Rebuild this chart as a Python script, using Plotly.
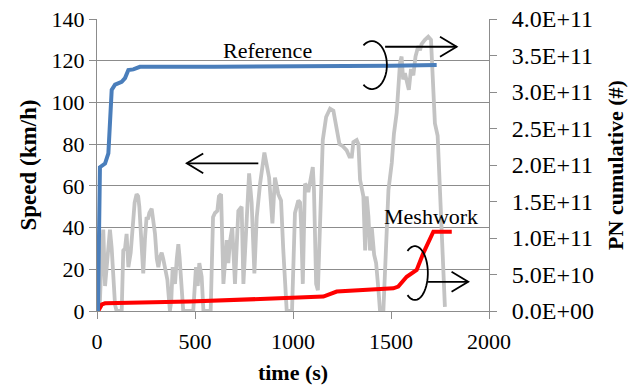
import numpy as np
import plotly.graph_objects as go

# ---- data ----
speed_t = [0, 15, 25, 32, 41, 53, 66, 75, 83, 92, 100, 126, 134, 143, 151, 160, 172, 182, 192, 202,
           210, 216, 226, 236, 245, 253, 260, 267, 279, 288, 296, 305, 313, 322, 330, 338, 347, 359,
           372, 379, 386, 392, 398, 407, 415, 421, 427, 440, 491, 505, 514, 522, 534, 543, 580, 592,
           602, 614, 622, 633, 645, 655, 662, 670, 678, 690, 704, 721, 738, 747, 764, 776, 789, 803,
           815, 832, 854, 866, 878, 895, 908, 925, 939, 950, 968, 995, 1010, 1027, 1036, 1042, 1050,
           1061, 1070, 1078, 1090, 1101, 1107, 1118, 1127, 1141, 1152, 1169, 1189, 1206, 1223, 1237,
           1254, 1274, 1288, 1300, 1308, 1325, 1334, 1342, 1359, 1368, 1376, 1385, 1393, 1402, 1414,
           1424, 1436, 1444, 1461, 1475, 1487, 1504, 1515, 1529, 1546, 1554, 1562, 1571, 1585, 1591,
           1602, 1614, 1625, 1639, 1648, 1656, 1673, 1690, 1704, 1716, 1724, 1738, 1746, 1758, 1767,
           1775]
speed_v = [0, 5, 30, 39, 12, 25, 39, 30, 16, 3, 0, 0, 29, 30, 37, 21, 28, 40, 52, 56,
           55, 50, 30, 18, 35, 45, 44, 47, 49, 44, 37, 25, 21, 26, 28, 25, 21, 15,
           0, 5, 21, 17, 13, 25, 32, 26, 18, 0, 0, 21, 12, 23, 16.5, 0, 0, 45,
           47, 48, 55, 56, 13, 25, 34, 23, 33, 40, 13, 48, 50, 13, 50, 66, 52, 18,
           45, 61, 76, 69, 64, 42, 64, 56, 53, 30, 0, 0, 47, 53, 52, 40, 13,
           61, 60, 57, 63, 69, 58, 13, 10, 58, 82, 93, 97, 96, 88, 80,
           79, 77, 74, 74, 81, 82, 80, 63, 55, 29, 55, 45, 29, 40, 27,
           23, 10, 0, 0, 34, 58, 71, 85, 95, 119, 122, 111, 114, 108, 106,
           116, 113, 122, 127, 125, 128, 130, 131.5, 130, 108, 90, 84, 68, 44, 20,
           2]

ref_t = [0, 5, 15, 41, 58, 75, 92, 126, 143, 160, 185, 219, 600, 1200, 1500, 1733]
ref_pn = [0, 0.0, 1.97e11, 2.02e11, 2.16e11, 3.03e11, 3.10e11, 3.14e11, 3.19e11, 3.30e11,
          3.31e11, 3.345e11, 3.345e11, 3.35e11, 3.36e11, 3.37e11]

mesh_t = [0, 10, 25, 41, 474, 985, 1155, 1223, 1512, 1537, 1580, 1631, 1665, 1716, 1810]
mesh_pn = [0, 0.2e10, 0.9e10, 1.06e10, 1.29e10, 1.74e10, 1.97e10, 2.66e10, 3.11e10, 3.34e10,
           4.69e10, 5.63e10, 7.94e10, 1.086e11, 1.086e11]

x_ticks = [0, 500, 1000, 1500, 2000]
y_ticks = [0, 20, 40, 60, 80, 100, 120, 140]
y2_ticks = [0, 5e10, 1e11, 1.5e11, 2e11, 2.5e11, 3e11, 3.5e11, 4e11]
y2_labels = ["0.0E+00", "5.0E+10", "1.0E+11", "1.5E+11", "2.0E+11",
             "2.5E+11", "3.0E+11", "3.5E+11", "4.0E+11"]

FONT = "Liberation Serif"
AX = "#8c8c8c"

fig = go.Figure()
fig.add_trace(go.Scatter(x=speed_t, y=speed_v, mode="lines",
                         line=dict(color="#c3c3c3", width=3.8), yaxis="y"))
fig.add_trace(go.Scatter(x=mesh_t, y=mesh_pn, mode="lines",
                         line=dict(color="#ff0000", width=4), yaxis="y2"))
fig.add_trace(go.Scatter(x=ref_t, y=ref_pn, mode="lines",
                         line=dict(color="#4a7ebb", width=4), yaxis="y2"))


def arc_path(cx, cy, rx, ry, a0, a1, n=40):
    ang = np.radians(np.linspace(a0, a1, n))
    xs = cx + rx * np.cos(ang)
    ys = cy + ry * np.sin(ang)
    return "M " + " L ".join(f"{x:.2f},{y:.3f}" for x, y in zip(xs, ys))


shapes = []
line_style = dict(color="black", width=1.8)
# left arrow (speed axis)
shapes.append(dict(type="line", xref="x", yref="y", x0=823, y0=70.8, x1=458, y1=70.8, line=line_style))
shapes.append(dict(type="path", xref="x", yref="y", path="M 542,75.5 L 458,70.8 L 542,66", line=line_style))
# reference arc + arrow
shapes.append(dict(type="path", xref="x", yref="y", path=arc_path(1403, 117.9, 76, 11.5, -125, 125), line=line_style))
shapes.append(dict(type="line", xref="x", yref="y", x0=1470, y0=126.7, x1=1835, y1=126.7, line=line_style))
shapes.append(dict(type="path", xref="x", yref="y", path="M 1750,131.5 L 1835,126.7 L 1750,121.9", line=line_style))
# meshwork arc + arrow
shapes.append(dict(type="path", xref="x", yref="y", path=arc_path(1622, 18.2, 66, 12.9, -125, 125), line=line_style))
shapes.append(dict(type="line", xref="x", yref="y", x0=1689, y0=14.0, x1=1894, y1=14.0, line=line_style))
shapes.append(dict(type="path", xref="x", yref="y", path="M 1809,18.8 L 1894,14.0 L 1809,9.2", line=line_style))

annotations = [
    dict(x=872, y=125.0, xref="x", yref="y", text="Reference", showarrow=False,
         xanchor="center", yanchor="middle", font=dict(family=FONT, size=22, color="black")),
    dict(x=1704, y=45.5, xref="x", yref="y", text="Meshwork", showarrow=False,
         xanchor="center", yanchor="middle", font=dict(family=FONT, size=22, color="black")),
]

fig.update_layout(
    width=640, height=385,
    margin=dict(l=97, r=151, t=19, b=74),
    plot_bgcolor="white", paper_bgcolor="white",
    showlegend=False,
    font=dict(family=FONT, size=22, color="black"),
    shapes=shapes,
    annotations=annotations,
    xaxis=dict(range=[0, 2000], tickvals=x_ticks, showgrid=False, zeroline=False,
               showline=True, linecolor=AX, linewidth=1, ticks="outside", ticklen=7,
               tickcolor=AX, tickfont=dict(family=FONT, size=22), automargin=False,
               ticklabelstandoff=4,
               title=dict(text="<b>time (s)</b>", font=dict(family=FONT, size=22), standoff=14)),
    yaxis=dict(range=[0, 140], tickvals=y_ticks, showgrid=True, gridcolor=AX, gridwidth=1,
               zeroline=False, showline=True, linecolor=AX, linewidth=1, ticks="outside",
               ticklen=7, tickcolor=AX, tickfont=dict(family=FONT, size=22), automargin=False,
               title=dict(text="<b>Speed (km/h)</b>", font=dict(family=FONT, size=23), standoff=8)),
    yaxis2=dict(range=[0, 4e11], overlaying="y", side="right", tickvals=y2_ticks,
                ticktext=y2_labels, showgrid=False, zeroline=False, showline=True,
                linecolor=AX, linewidth=1, ticks="outside", ticklen=7, tickcolor=AX,
                tickfont=dict(family=FONT, size=24), ticklabelstandoff=10, automargin=False,
                title=dict(text="<b>PN cumulative (#)</b>", font=dict(family=FONT, size=22), standoff=14)),
)

fig.write_html("out.html")
